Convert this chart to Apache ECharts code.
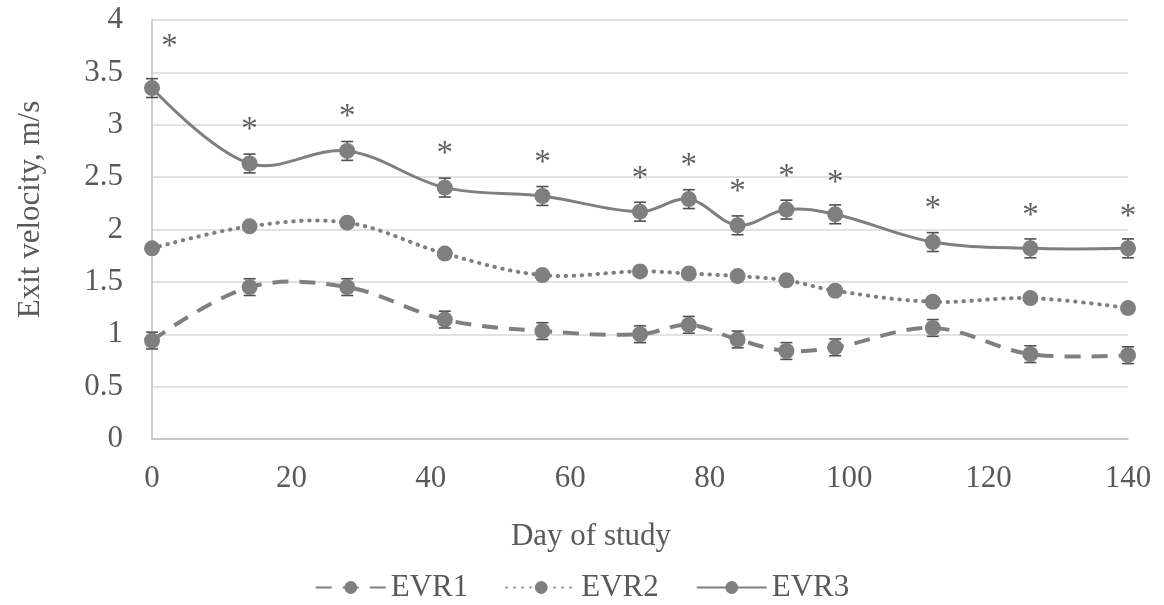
<!DOCTYPE html>
<html>
<head>
<meta charset="utf-8">
<script src="https://cdn.jsdelivr.net/npm/echarts@6/dist/echarts.min.js"></script>
<style>
html,body{margin:0;padding:0;background:#fff;}
#chart{width:1164px;height:605px;}
</style>
</head>
<body>
<div id="chart"></div>
<script>
// ---- data ----
const days = [0, 14, 28, 42, 56, 70, 77, 84, 91, 98, 112, 126, 140];
const evr1 = [0.94, 1.45, 1.45, 1.14, 1.03, 1.00, 1.09, 0.95, 0.84, 0.875, 1.06, 0.81, 0.80];
const evr2 = [1.82, 2.03, 2.065, 1.77, 1.565, 1.60, 1.58, 1.555, 1.515, 1.415, 1.31, 1.345, 1.25];
const evr3 = [3.35, 2.63, 2.75, 2.40, 2.32, 2.17, 2.29, 2.04, 2.19, 2.145, 1.88, 1.82, 1.82];
const err1 = [0.08, 0.08, 0.08, 0.08, 0.08, 0.08, 0.08, 0.08, 0.08, 0.08, 0.08, 0.08, 0.08];
const err2 = [0.03, 0.03, 0.03, 0.03, 0.03, 0.03, 0.03, 0.03, 0.03, 0.03, 0.03, 0.03, 0.03];
const err3 = [0.09, 0.09, 0.09, 0.09, 0.09, 0.09, 0.09, 0.09, 0.09, 0.09, 0.09, 0.09, 0.09];
const starDays = [2.5, 14, 28, 42, 56, 70, 77, 84, 91, 98, 112, 126, 140];
const starVals = [3.82, 3.02, 3.15, 2.79, 2.71, 2.56, 2.68, 2.43, 2.575, 2.52, 2.265, 2.20, 2.19];
const seriesNames = ['EVR1', 'EVR2', 'EVR3'];
const xTitle = 'Day of study';
const yTitle = 'Exit velocity, m/s';

const FONT = "'Liberation Serif','Times New Roman',serif";
const GRAY = '#7f7f7f';
const TXT = '#595959';
const FS = 31;

function pairs(xs, ys) { return xs.map((x, i) => [x, ys[i]]); }
function triples(xs, ys, es) { return xs.map((x, i) => [x, ys[i], es[i]]); }

function errBar(params, api) {
  const x = api.value(0), y = api.value(1), e = api.value(2);
  const t = api.coord([x, y + e]);
  const b = api.coord([x, y - e]);
  const hw = 6;
  const st = { stroke: '#505050', lineWidth: 1.6 };
  return {
    type: 'group',
    children: [
      { type: 'line', shape: { x1: t[0], y1: t[1], x2: b[0], y2: b[1] }, style: st },
      { type: 'line', shape: { x1: t[0] - hw, y1: t[1], x2: t[0] + hw, y2: t[1] }, style: st },
      { type: 'line', shape: { x1: b[0] - hw, y1: b[1], x2: b[0] + hw, y2: b[1] }, style: st }
    ]
  };
}

// smooth curve through the data points (drawn once, via the axes' scales)
function curve(xs, ys, lstyle) {
  return function (params, api) {
    if (params.dataIndex !== 0) return null;
    const pts = xs.map((x, i) => api.coord([x, ys[i]]));
    return {
      type: 'polyline',
      shape: { points: pts, smooth: 0.36 },
      style: Object.assign({ fill: null, stroke: GRAY }, lstyle)
    };
  };
}

const lineBase = {
  type: 'line',
  symbol: 'circle',
  symbolSize: 16,
  z: 4,
  itemStyle: { color: GRAY },
  emphasis: { disabled: true }
};

const chart = echarts.init(document.getElementById('chart'), null, { renderer: 'canvas' });
chart.setOption({
  animation: false,
  backgroundColor: '#fff',
  textStyle: { fontFamily: FONT },
  grid: { left: 152, right: 36, top: 20, bottom: 166, containLabel: false },
  legend: {
    data: seriesNames,
    left: 'center',
    top: 567,
    itemWidth: 70,
    itemHeight: 16,
    itemGap: 37,
    lineStyle: { opacity: 1 },
    textStyle: { fontFamily: FONT, fontSize: FS, color: TXT }
  },
  xAxis: {
    type: 'value',
    min: 0, max: 140, interval: 20,
    name: xTitle,
    nameLocation: 'middle',
    nameGap: 82,
    nameTextStyle: { fontFamily: FONT, fontSize: FS, color: TXT, padding: [0, 98, 0, 0] },
    axisLine: { show: true, lineStyle: { color: '#bfbfbf', width: 1.5 } },
    axisTick: { show: false },
    splitLine: { show: false },
    axisLabel: { fontFamily: FONT, fontSize: FS, color: TXT, margin: 24 }
  },
  yAxis: {
    type: 'value',
    min: 0, max: 4, interval: 0.5,
    name: yTitle,
    nameLocation: 'middle',
    nameRotate: 90,
    nameGap: 106,
    nameTextStyle: { fontFamily: FONT, fontSize: FS, color: TXT, padding: [0, 0, 0, 40] },
    axisLine: { show: true, lineStyle: { color: '#bfbfbf', width: 1.5 } },
    axisTick: { show: false },
    splitLine: { show: true, lineStyle: { color: '#d9d9d9', width: 1.5 } },
    axisLabel: { fontFamily: FONT, fontSize: FS, color: TXT, margin: 29 }
  },
  series: [
    Object.assign({}, lineBase, {
      name: 'EVR1',
      data: pairs(days, evr1),
      lineStyle: { color: GRAY, width: 4, type: [16, 11], cap: 'butt', opacity: 0 }
    }),
    Object.assign({}, lineBase, {
      name: 'EVR2',
      data: pairs(days, evr2),
      lineStyle: { color: GRAY, width: 4, type: [0.5, 7.5], cap: 'round', opacity: 0 }
    }),
    Object.assign({}, lineBase, {
      name: 'EVR3',
      data: pairs(days, evr3),
      lineStyle: { color: GRAY, width: 3, opacity: 0 }
    }),
    { type: 'custom', name: 'c1', z: 2, silent: true, data: pairs(days, evr1),
      renderItem: curve(days, evr1, { lineWidth: 4, lineDash: [16, 11], lineCap: 'butt' }) },
    { type: 'custom', name: 'c2', z: 2, silent: true, data: pairs(days, evr2),
      renderItem: curve(days, evr2, { lineWidth: 4, lineDash: [0.5, 7.5], lineCap: 'round' }) },
    { type: 'custom', name: 'c3', z: 2, silent: true, data: pairs(days, evr3),
      renderItem: curve(days, evr3, { lineWidth: 3 }) },
    { type: 'custom', name: 'err1', z: 3, renderItem: errBar, data: triples(days, evr1, err1), silent: true },
    { type: 'custom', name: 'err2', z: 3, renderItem: errBar, data: triples(days, evr2, err2), silent: true },
    { type: 'custom', name: 'err3', z: 3, renderItem: errBar, data: triples(days, evr3, err3), silent: true },
    {
      type: 'scatter',
      name: 'sig',
      data: pairs(starDays, starVals),
      symbolSize: 2,
      itemStyle: { color: 'rgba(0,0,0,0)' },
      silent: true,
      z: 5,
      label: {
        show: true,
        position: 'inside',
        formatter: '*',
        fontFamily: FONT,
        fontSize: 33,
        color: '#383838',
        offset: [0, 8]
      }
    }
  ]
});
</script>
</body>
</html>
